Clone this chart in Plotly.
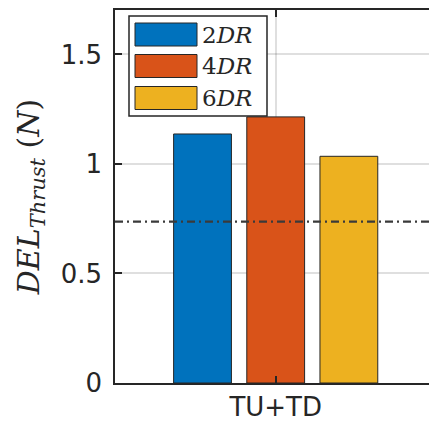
import plotly.graph_objects as go

# Damage-equivalent thrust load for each downstream spacing
category = ["TU+TD"]
spacings = ["2", "4", "6"]
del_thrust = [1.137, 1.215, 1.035]
reference_del = 0.737
colors = ["#0072BD", "#D95319", "#EDB120"]
y_ticks = [0, 0.5, 1, 1.5]
y_tick_labels = ["0", "0.5", "1", "1.5"]

axis_color = "#262626"
grid_color = "rgba(38,38,38,0.15)"
tick_font = dict(family="DejaVu Sans", size=26, color=axis_color)
serif = "DejaVu Serif"

fig = go.Figure()
for s, v, c in zip(spacings, del_thrust, colors):
    fig.add_trace(go.Bar(
        x=category, y=[v], name=f"{s}DR",
        marker=dict(color=c, line=dict(color=axis_color, width=1)),
        showlegend=False,
    ))

# horizontal reference level across the whole axis
fig.add_shape(type="line", xref="paper", x0=0, x1=1, yref="y",
              y0=reference_del, y1=reference_del, layer="above",
              line=dict(color="#3a3a3a", width=2.2, dash="8px,4px,2px,4px"))

# boxed legend with wide colour swatches
plot_w, plot_h = 429 - 115, 425 - 10 - 42
def px_x(p):
    return (p - 115) / plot_w
def px_y(p):
    return (383 - p) / plot_h

fig.add_shape(type="rect", xref="paper", yref="paper",
              x0=px_x(129), x1=px_x(267), y0=px_y(116), y1=px_y(16),
              line=dict(color=axis_color, width=1.5), fillcolor="white",
              layer="above")
row_centers = [34.5, 66, 98]
for s, c, yc in zip(spacings, colors, row_centers):
    fig.add_shape(type="rect", xref="paper", yref="paper",
                  x0=px_x(135), x1=px_x(197), y0=px_y(yc + 11.5), y1=px_y(yc - 11.5),
                  line=dict(color=axis_color, width=1), fillcolor=c, layer="above")
    fig.add_annotation(xref="paper", yref="paper", x=px_x(200), y=px_y(yc),
                       xanchor="left", yanchor="middle", showarrow=False,
                       text=f"{s}<i>DR</i>",
                       font=dict(family=serif, size=23, color=axis_color))

fig.update_layout(
    width=429, height=425,
    margin=dict(l=115, r=0, t=10, b=42),
    plot_bgcolor="white", paper_bgcolor="white",
    barmode="group", bargap=0.317, bargroupgap=0.21,
    xaxis=dict(
        type="category", range=[-0.5, 0.477],
        showline=True, linecolor=axis_color, linewidth=1.5, mirror="ticks",
        ticks="inside", ticklen=7, tickwidth=1.5, tickcolor=axis_color,
        showgrid=True, gridcolor=grid_color, gridwidth=1.5,
        tickfont=tick_font,
    ),
    yaxis=dict(
        range=[0, 1.703], tickvals=y_ticks, ticktext=y_tick_labels,
        showline=True, linecolor=axis_color, linewidth=1.5, mirror=False,
        ticks="inside", ticklen=7, tickwidth=1.5, tickcolor=axis_color,
        showgrid=True, gridcolor=grid_color, gridwidth=1.5, zeroline=False,
        tickfont=tick_font, ticklabelstandoff=6,
        title=dict(text="<i>DEL</i><sub><i>Thrust</i></sub> (<i>N</i>)",
                   font=dict(family=serif, size=30, color=axis_color),
                   standoff=12),
    ),
)

fig.write_html("out.html")
